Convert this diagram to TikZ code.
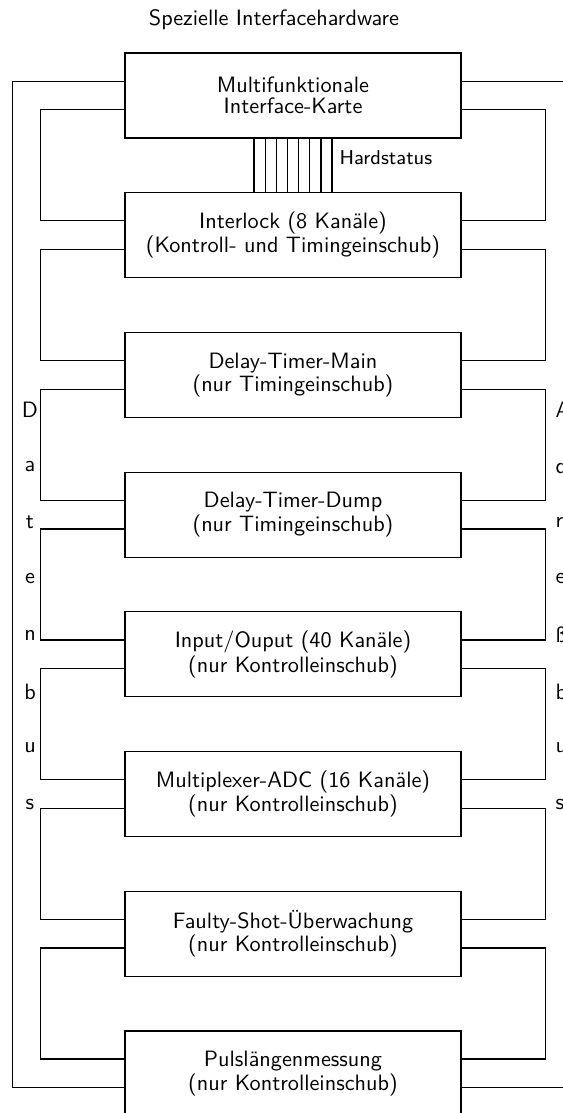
\documentclass[tikz,border=0pt]{standalone}
\usepackage{fontspec}
\usepackage{tikz}
\usetikzlibrary{positioning,calc}

\begin{document}
\begin{tikzpicture}[x=0.45pt, y=-0.45pt, line width=0.55pt,
  font=\sffamily\fontsize{10}{9.5}\selectfont,
  einschub/.style={draw, minimum width=151.2pt, minimum height=38.25pt,
    inner sep=0pt, align=center},
  buchst/.style={inner sep=0pt}]
\clip (0,0) rectangle (563,1113);
% Titel
\node (titel) at (274,20) {Spezielle Interfacehardware};
% Einschuebe
\node[einschub] (mfk)    at (293,95.5)   {Multifunktionale\\Interface-Karte};
\node[einschub] (ilock)  at (293,235.2)  {Interlock (8 Kanäle)\\(Kontroll- und Timingeinschub)};
\node[einschub] (dtmain) at (293,374.9)  {Delay-Timer-Main\\(nur Timingeinschub)};
\node[einschub] (dtdump) at (293,514.6)  {Delay-Timer-Dump\\(nur Timingeinschub)};
\node[einschub] (io)     at (293,654.3)  {Input/Ouput (40 Kanäle)\\(nur Kontrolleinschub)};
\node[einschub] (madc)   at (293,794.0)  {Multiplexer-ADC (16 Kanäle)\\(nur Kontrolleinschub)};
\node[einschub] (fsu)    at (293,933.7)  {Faulty-Shot-Überwachung\\(nur Kontrolleinschub)};
\node[einschub] (plm)    at (293,1073.4) {Pulslängenmessung\\(nur Kontrolleinschub)};
% Anschlusspunkte
\foreach \n in {mfk,ilock,dtmain,dtdump,io,madc,fsu,plm} {
  \coordinate (\n-lo) at ($(\n.north west)!1/3!(\n.south west)$);
  \coordinate (\n-lu) at ($(\n.north west)!2/3!(\n.south west)$);
  \coordinate (\n-ro) at ($(\n.north east)!1/3!(\n.south east)$);
  \coordinate (\n-ru) at ($(\n.north east)!2/3!(\n.south east)$);
}
% Verkettung links und rechts
\foreach \a/\b in {mfk/ilock,ilock/dtmain,dtmain/dtdump,dtdump/io,io/madc,madc/fsu,fsu/plm} {
  \draw (\a-lu) -- ++(-84,0) |- (\b-lo);
  \draw (\a-ru) -- ++(84,0) |- (\b-ro);
}
% Busleitungen aussen
\draw (mfk-lo) -- ++(-112,0) |- (plm-lu);
\coordinate (rand-o) at (563,0 |- mfk-ro);
\coordinate (rand-u) at (563,0 |- plm-ru);
\draw (mfk-ro) -- (rand-o);
\draw (plm-ru) -- (rand-u);
% Hardstatus
\foreach \i in {0,...,7}
  \draw ([xshift={(\i-3.5)*5.02pt}]mfk.south) -- ([xshift={(\i-3.5)*5.02pt}]ilock.north);
\node[anchor=west, inner sep=0pt, font=\sffamily\fontsize{9}{10}\selectfont] (hst) at (339,158) {Hardstatus};
% Beschriftung der Busse
\foreach \c [count=\i from 0] in {D,a,t,e,n,b,u,s}
  \node[buchst] (dl\i) at (30,410+56.3*\i) {\c};
\foreach \c [count=\i from 0] in {A,d,r,e,ß,b,u,s}
  \node[buchst, anchor=west] (ar\i) at (555,410+56.3*\i) {\c};
\end{tikzpicture}
\end{document}
